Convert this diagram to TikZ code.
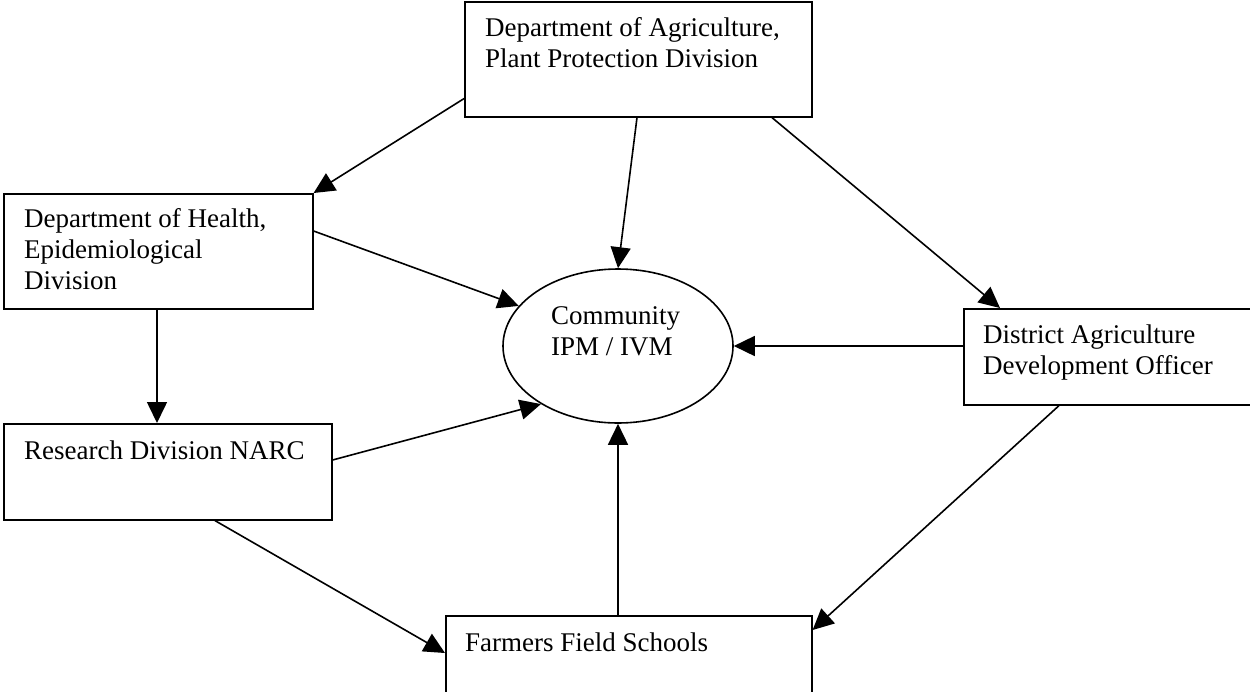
\documentclass[tikz,border=0pt]{standalone}
\usepackage{fontspec}
\setmainfont{Liberation Serif}
\usetikzlibrary{arrows.meta,shapes.geometric}
\begin{document}
\begin{tikzpicture}[x=1pt,y=-1pt,
  box/.style={draw,line width=1.6pt,rectangle,inner sep=0pt,anchor=north west},
  oval/.style={draw,line width=1.6pt,ellipse,inner sep=0pt,minimum width=230pt,minimum height=154pt},
  lbl/.style={anchor=base west,inner sep=0pt,align=left,font=\fontsize{27}{31}\selectfont},
  conn/.style={line width=1.6pt,-{Triangle[length=21pt,width=20pt]}}]
\useasboundingbox (0,0) rectangle (1250,691);
% boxes
\node[box,minimum width=347pt,minimum height=115pt] (b1) at (464,1) {};
\node[box,minimum width=309pt,minimum height=115pt] (b2) at (3,193) {};
\node[box,minimum width=328pt,minimum height=96pt] (b3) at (3,423) {};
\node[box,minimum width=300pt,minimum height=96pt] (b5) at (963,308) {};
\node[box,minimum width=366pt,minimum height=90pt] (b4) at (445,615) {};
\node[oval] (e) at (618,346) {};
% texts (anchored at the baseline of their last line)
\node[lbl] (t1) at (485,67) {Department of Agriculture,\\Plant Protection Division};
\node[lbl] (t2) at (24,289) {Department of Health,\\Epidemiological\\Division};
\node[lbl] (t3) at (24,459) {Research Division NARC};
\node[lbl] (t5) at (983,374) {District Agriculture\\Development Officer};
\node[lbl] (t4) at (465,651) {Farmers Field Schools};
\node[lbl] (te) at (551,355) {Community\\IPM / IVM};
% connectors
\draw[conn] ([yshift=19pt]b1.south west) -- (b2.north east);
\draw[conn] ([xshift=173pt]b1.south west) -- (e.north);
\draw[conn] ([xshift=308pt]b1.south west) -- ([xshift=37pt]b5.north west);
\draw[conn] ([yshift=-38pt]b2.north east) -- (e.158.8);
\draw[conn] ([xshift=154pt]b2.south west) -- ([xshift=154pt]b3.north west);
\draw[conn] ([yshift=-37pt]b3.north east) -- (e.217.8);
\draw[conn] ([xshift=212pt]b3.south west) -- ([yshift=-38pt]b4.north west);
\draw[conn] ([yshift=-38pt]b5.north west) -- (e.east);
\draw[conn] ([xshift=96pt]b5.south west) -- ([yshift=-15pt]b4.north east);
\draw[conn] ([xshift=173pt]b4.north west) -- (e.south);
\end{tikzpicture}
\end{document}
